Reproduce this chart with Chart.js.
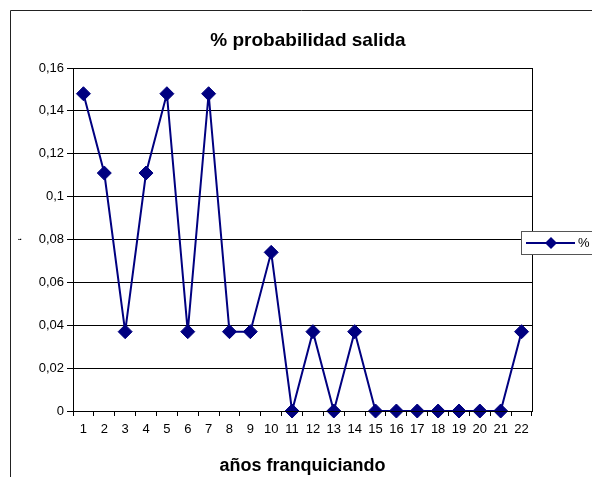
<!DOCTYPE html>
<html><head><meta charset="utf-8">
<script src="https://cdn.jsdelivr.net/npm/chart.js@4"></script>
<style>html,body{margin:0;padding:0;background:#fff}#wrap{position:relative;width:592px;height:477px}</style>
</head><body><div id="wrap"><canvas id="c" width="592" height="477"></canvas></div>
<script>
const categories = ['1','2','3','4','5','6','7','8','9','10','11','12','13','14','15','16','17','18','19','20','21','22'];
const seriesLabel = '%';
const values = [0.148,0.111,0.037,0.111,0.148,0.037,0.148,0.037,0.037,0.074,0,0.037,0,0.037,0,0,0,0,0,0,0,0.037];
const yTickLabels = ['0','0,02','0,04','0,06','0,08','0,1','0,12','0,14','0,16'];
const chartTitle = '% probabilidad salida';
const xTitle = 'años franquiciando';
const yTitle = '‘';

const FONT = '"Liberation Sans", Arial, sans-serif';
const NAVY = '#000080';

const decor = {
  id: 'decor',
  beforeDraw(chart) {
    const ctx = chart.ctx;
    ctx.save();
    ctx.fillStyle = '#fff';
    ctx.fillRect(0, 0, chart.width, chart.height);
    ctx.strokeStyle = '#222';
    ctx.lineWidth = 1;
    ctx.beginPath();
    ctx.moveTo(10.5, chart.height);
    ctx.lineTo(10.5, 10.5);
    ctx.lineTo(chart.width, 10.5);
    ctx.stroke();
    ctx.restore();
  },
  afterDraw(chart) {
    const ctx = chart.ctx;
    const a = chart.chartArea;
    ctx.save();
    ctx.strokeStyle = '#000';
    ctx.lineWidth = 1;
    ctx.strokeRect(Math.round(a.left) + 0.5, Math.round(a.top) + 0.5, Math.round(a.right - a.left), Math.round(a.bottom - a.top));
    ctx.fillStyle = '#000';
    ctx.font = 'bold 19px ' + FONT;
    ctx.textAlign = 'center';
    ctx.textBaseline = 'middle';
    ctx.fillText(chartTitle, 308, 41);
    const ds = chart.data.datasets[0];
    const bx = 521, by = 231, bw = 90, bh = 23;
    ctx.fillStyle = '#fff';
    ctx.fillRect(bx, by, bw, bh);
    ctx.strokeStyle = '#555';
    ctx.strokeRect(bx + 0.5, by + 0.5, bw, bh);
    const cy = by + bh / 2 + 0.5;
    ctx.strokeStyle = ds.borderColor;
    ctx.lineWidth = 2;
    ctx.beginPath();
    ctx.moveTo(526, cy);
    ctx.lineTo(575, cy);
    ctx.stroke();
    ctx.fillStyle = ds.pointBackgroundColor;
    ctx.beginPath();
    ctx.moveTo(551, cy - 6);
    ctx.lineTo(557, cy);
    ctx.lineTo(551, cy + 6);
    ctx.lineTo(545, cy);
    ctx.closePath();
    ctx.fill();
    ctx.fillStyle = '#000';
    ctx.font = '13px ' + FONT;
    ctx.textAlign = 'left';
    ctx.fillText(ds.label, 578, cy);
    ctx.restore();
  }
};

new Chart(document.getElementById('c'), {
  type: 'line',
  data: {
    labels: categories,
    datasets: [{
      label: seriesLabel,
      data: values,
      borderColor: NAVY,
      borderWidth: 2,
      backgroundColor: NAVY,
      pointBackgroundColor: NAVY,
      pointBorderColor: NAVY,
      pointBorderWidth: 1,
      pointStyle: 'rectRot',
      pointRadius: 7,
      pointHoverRadius: 7,
      tension: 0,
      fill: false,
      clip: false
    }]
  },
  options: {
    responsive: false,
    devicePixelRatio: 1,
    animation: false,
    layout: { padding: { top: 68, right: 60, left: 0, bottom: 0 } },
    plugins: {
      legend: { display: false },
      title: { display: false },
      tooltip: { enabled: false }
    },
    scales: {
      x: {
        type: 'category',
        offset: true,
        afterFit(s) { s.height = 66; },
        grid: { display: true, drawOnChartArea: false, drawTicks: true, tickLength: 5, offset: true, color: '#000' },
        border: { display: true, color: '#000' },
        ticks: { color: '#000', font: { family: FONT, size: 13 }, padding: 6, maxRotation: 0, autoSkip: false },
        title: { display: true, text: xTitle, color: '#000', font: { family: FONT, size: 18, weight: 'bold' }, padding: { top: 0, bottom: 0 } }
      },
      y: {
        min: 0, max: 0.16,
        afterFit(s) { s.width = 73; },
        grid: { color: '#000', tickLength: 6, drawTicks: true },
        border: { display: true, color: '#000' },
        ticks: {
          stepSize: 0.02,
          color: '#000',
          font: { family: FONT, size: 13 },
          padding: 3,
          callback: (v, i) => yTickLabels[i]
        },
        title: { display: true, text: yTitle, color: '#000', font: { family: FONT, size: 12 }, padding: { top: 16, bottom: 0 } }
      }
    }
  },
  plugins: [decor]
});
</script>
</body></html>
